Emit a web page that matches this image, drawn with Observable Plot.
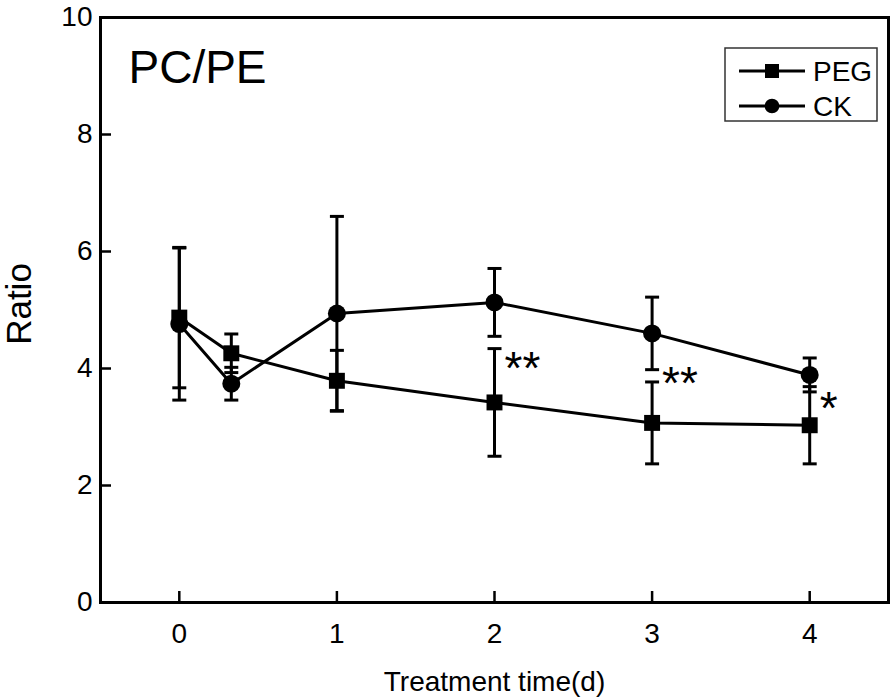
<!DOCTYPE html>
<html><head><meta charset="utf-8">
<script src="https://cdn.jsdelivr.net/npm/d3@7"></script>
<script src="https://cdn.jsdelivr.net/npm/@observablehq/plot@0.6"></script>
<style>
html,body{margin:0;padding:0;background:#fff;}
#wrap{position:relative;width:894px;height:698px;}
#legend{position:absolute;left:0;top:0;pointer-events:none;}
</style></head><body><div id="wrap"></div>
<script>
// Data
const chartTitle = "PC/PE";
const xLabel = "Treatment time(d)";
const yLabel = "Ratio";
const seriesNames = ["PEG", "CK"];
const time = [0, 0.33, 1, 2, 3, 4];
const pegMean = [4.87, 4.26, 3.79, 3.42, 3.07, 3.03];
const pegErr  = [1.20, 0.33, 0.52, 0.92, 0.70, 0.66];
const ckMean  = [4.76, 3.74, 4.94, 5.13, 4.60, 3.89];
const ckErr   = [1.30, 0.28, 1.66, 0.58, 0.62, 0.29];
const xTicks = [0, 1, 2, 3, 4];
const yTicks = [0, 2, 4, 6, 8, 10];
const starX = [2, 3, 4];
const starY = [4.19, 3.93, 3.50];
const starText = ["**", "**", "*"];

const FONT = "'Liberation Sans', Arial, Helvetica, sans-serif";
const W = 894, H = 698, ML = 100, MR = 6, MT = 17, MB = 96, TICK = 11;

const pegRows = time.map((t, i) => ({series: "PEG", t, v: pegMean[i], lo: pegMean[i] - pegErr[i], hi: pegMean[i] + pegErr[i]}));
const ckRows = time.map((t, i) => ({series: "CK", t, v: ckMean[i], lo: ckMean[i] - ckErr[i], hi: ckMean[i] + ckErr[i]}));
const rows = [...pegRows, ...ckRows];
const stars = starX.map((x, i) => ({x, y: starY[i], text: starText[i]}));

const capSymbol = {draw(ctx, size) { const w = Math.sqrt(size / Math.PI); ctx.moveTo(-w, 0); ctx.lineTo(w, 0); }};

const plot = Plot.plot({
  width: W,
  height: H,
  marginLeft: ML,
  marginRight: MR,
  marginTop: MT,
  marginBottom: MB,
  style: {fontFamily: FONT, color: "#000", background: "#fff", overflow: "visible"},
  x: {domain: [-0.5, 4.5]},
  y: {domain: [0, 10]},
  marks: [
    // tick labels
    Plot.axisX({ticks: xTicks, tickSize: 0, tickPadding: 21, fontSize: 28, label: null, tickFormat: d3.format("d")}),
    Plot.axisY({ticks: yTicks, tickSize: 0, tickPadding: 8, fontSize: 28, label: null, tickFormat: d3.format("d")}),
    // inward ticks
    Plot.ruleX(xTicks, {x: d => d, insetTop: (H - MT - MB) - TICK, stroke: "#000", strokeWidth: 2.5}),
    Plot.ruleY(yTicks, {y: d => d, insetRight: (W - ML - MR) - TICK, stroke: "#000", strokeWidth: 2.5}),
    // error bars
    Plot.ruleX(rows, {x: "t", y1: "lo", y2: "hi", stroke: "#000", strokeWidth: 3}),
    Plot.dot(rows, {x: "t", y: "lo", symbol: capSymbol, r: 7, stroke: "#000", strokeWidth: 3, fill: "none"}),
    Plot.dot(rows, {x: "t", y: "hi", symbol: capSymbol, r: 7, stroke: "#000", strokeWidth: 3, fill: "none"}),
    // lines
    Plot.line(rows, {x: "t", y: "v", z: "series", stroke: "#000", strokeWidth: 3}),
    // markers
    Plot.dot(pegRows, {x: "t", y: "v", symbol: "square", r: 9, fill: "#000", stroke: "none"}),
    Plot.dot(ckRows, {x: "t", y: "v", symbol: "circle", r: 9, fill: "#000", stroke: "none"}),
    // significance stars
    Plot.text(stars, {x: "x", y: "y", text: "text", textAnchor: "start", dx: 10, dy: 12, fontSize: 46, fill: "#000"}),
    // panel title
    Plot.text([chartTitle], {frameAnchor: "top-left", textAnchor: "start", lineAnchor: "top", dx: 28, dy: 33, fontSize: 46, fill: "#000"}),
    // axis titles
    Plot.text([xLabel], {frameAnchor: "bottom", textAnchor: "middle", lineAnchor: "bottom", dy: 88, fontSize: 28, fill: "#000"}),
    Plot.text([yLabel], {frameAnchor: "left", textAnchor: "middle", rotate: -90, lineAnchor: "top", dx: -94, dy: -6, fontSize: 35, fill: "#000"}),
    Plot.frame({stroke: "#000", strokeWidth: 3})
  ]
});

const wrap = document.getElementById("wrap");
wrap.appendChild(plot);

// legend overlay
const leg = d3.select(wrap).append("svg").attr("id", "legend").attr("width", W).attr("height", H)
  .style("font-family", FONT);
leg.append("rect").attr("x", 725).attr("y", 48).attr("width", 152).attr("height", 73)
  .attr("fill", "#fff").attr("stroke", "#333").attr("stroke-width", 1.5);
const legY = [71, 106];
seriesNames.forEach((name, i) => {
  const g = leg.append("g");
  g.append("line").attr("x1", 739).attr("x2", 805).attr("y1", legY[i]).attr("y2", legY[i]).attr("stroke", "#000").attr("stroke-width", 3);
  const sym = d3.symbol().type(i === 0 ? d3.symbolSquare : d3.symbolCircle).size(i === 0 ? 196 : 170);
  g.append("path").attr("d", sym()).attr("transform", `translate(772,${legY[i]})`).attr("fill", "#000");
  g.append("text").attr("x", 813).attr("y", legY[i]).attr("dy", "0.36em").attr("font-size", 28).attr("fill", "#000").text(name);
});
</script>
</body></html>
